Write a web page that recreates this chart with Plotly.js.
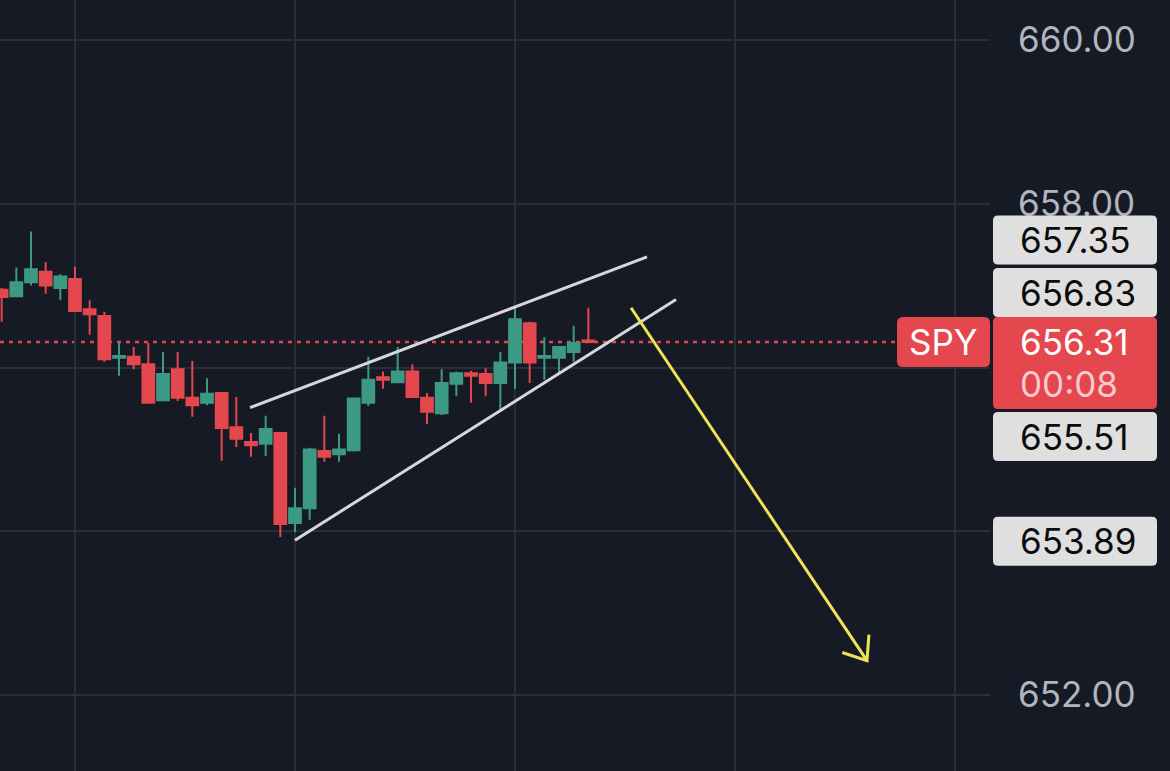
<!DOCTYPE html>
<html><head><meta charset="utf-8">
<script src="https://cdn.plot.ly/plotly-3.0.1.min.js"></script>
<style>html,body{margin:0;padding:0;background:#161a25;overflow:hidden}#chart{width:1170px;height:771px;}</style>
</head><body><div id="chart"></div>
<script>
// ---- data ----
const opens  = [656.95,656.87,657.04,657.17,656.97,657.08,656.71,656.63,656.12,656.13,656.04,655.60,655.98,655.63,655.57,655.69,655.27,655.09,655.07,655.20,654.10,654.28,654.98,654.94,654.99,655.57,655.88,655.82,655.95,655.63,655.44,655.80,655.93,655.92,655.81,656.06,656.54,656.12,656.12,656.19,656.33];
const highs  = [656.97,657.22,657.66,657.29,657.14,657.23,656.82,656.68,656.30,656.25,656.30,656.19,656.19,656.08,655.87,655.69,655.64,655.20,655.41,655.20,654.53,655.02,655.41,655.19,655.62,656.13,655.95,656.25,656.04,655.69,655.98,655.95,655.96,655.99,656.19,656.75,656.56,656.37,656.25,656.51,656.73];
const lows   = [656.56,656.87,657.00,656.90,656.82,656.69,656.40,656.07,655.90,655.98,655.57,655.60,655.59,655.40,655.54,654.86,655.03,654.91,654.92,653.93,653.99,654.14,654.85,654.85,654.97,655.53,655.74,655.81,655.64,655.31,655.42,655.65,655.57,655.65,655.46,655.74,655.81,655.85,655.92,656.07,656.31];
const closes = [656.86,657.04,657.20,657.00,657.11,656.69,656.65,656.10,656.14,656.04,655.57,655.92,655.63,655.54,655.68,655.26,655.13,655.05,655.25,654.09,654.28,655.00,654.91,655.00,655.62,655.85,655.85,655.95,655.64,655.46,655.81,655.93,655.90,655.81,656.06,656.59,656.06,656.14,656.25,656.30,656.31];

const upperLineX = [16.93, 44.0];
const upperLineY = [655.51, 657.35];
const lowerLineX = [20.0, 45.98];
const lowerLineY = [653.89, 656.83];
const arrowX = [42.91, 59.0];
const arrowY = [656.73, 652.42];

const yTickVals = [652, 654, 656, 658, 660];
const yTickText = ['652.00', '', '', '658.00', '660.00']; // 654.00 / 656.00 are hidden behind the price boxes
const priceLabels = [657.35, 656.83, 655.51, 653.89];
const lastPrice = 656.31;
const ticker = "SPY";
const countdown = "00:08";

// ---- style / geometry ----
const RED = '#e4474e', GREEN = '#3c9a84', BG = '#161a25', GRID = '#2a2e39';
const FONT = 'Inter, "Noto Sans", sans-serif';
const PLOT_W = 990, PLOT_H = 771;
const xRange = [-0.1136, 67.386];
const yRange = [651.0718, 660.4885];
const pxPerX = PLOT_W / (xRange[1] - xRange[0]);
const pxPerY = PLOT_H / (yRange[1] - yRange[0]);
const v2py = v => (yRange[1] - v) * pxPerY;
const py2v = py => yRange[1] - py / pxPerY;
const i2px = i => (i - xRange[0]) * pxPerX;
const px2i = px => xRange[0] + px / pxPerX;
const P = px => px / PLOT_W; // pixel -> paper x

const idx = opens.map((_, i) => i);

function roundRect(x0, x1, y0, y1, r, color) {
  const X = P, Y = py2v;
  const path = `M ${X(x0 + r)},${Y(y0)} L ${X(x1 - r)},${Y(y0)} Q ${X(x1)},${Y(y0)} ${X(x1)},${Y(y0 + r)} ` +
    `L ${X(x1)},${Y(y1 - r)} Q ${X(x1)},${Y(y1)} ${X(x1 - r)},${Y(y1)} L ${X(x0 + r)},${Y(y1)} ` +
    `Q ${X(x0)},${Y(y1)} ${X(x0)},${Y(y1 - r)} L ${X(x0)},${Y(y0 + r)} Q ${X(x0)},${Y(y0)} ${X(x0 + r)},${Y(y0)} Z`;
  return {type: 'path', xref: 'paper', yref: 'y', path, fillcolor: color, line: {width: 0}, layer: 'above'};
}

// arrow head (chevron) derived from the arrow line ends
const tipPx = [i2px(arrowX[1]), v2py(arrowY[1])];
const tailPx = [i2px(arrowX[0]), v2py(arrowY[0])];
const dx = tailPx[0] - tipPx[0], dy = tailPx[1] - tipPx[1];
const dl = Math.hypot(dx, dy);
const ux = dx / dl, uy = dy / dl;
const ang = 38 * Math.PI / 180, armLen = 26;
function rot(a) { return [ux * Math.cos(a) - uy * Math.sin(a), ux * Math.sin(a) + uy * Math.cos(a)]; }
const a1 = rot(ang), a2 = rot(-ang);
const headX = [px2i(tipPx[0] + a1[0] * armLen), arrowX[1], px2i(tipPx[0] + a2[0] * armLen)];
const headY = [py2v(tipPx[1] + a1[1] * armLen), arrowY[1], py2v(tipPx[1] + a2[1] * armLen)];

const traces = [
  {type: 'candlestick', x: idx, open: opens, high: highs, low: lows, close: closes,
   increasing: {line: {color: GREEN, width: 2}, fillcolor: GREEN},
   decreasing: {line: {color: RED, width: 2}, fillcolor: RED},
   whiskerwidth: 0, hoverinfo: 'skip', showlegend: false},
  {type: 'scatter', mode: 'lines', x: upperLineX, y: upperLineY, line: {color: '#d6d7dc', width: 3}, hoverinfo: 'skip'},
  {type: 'scatter', mode: 'lines', x: lowerLineX, y: lowerLineY, line: {color: '#d6d7dc', width: 3}, hoverinfo: 'skip'},
  {type: 'scatter', mode: 'lines', x: arrowX, y: arrowY, line: {color: '#efe35a', width: 3}, hoverinfo: 'skip'},
  {type: 'scatter', mode: 'lines', x: headX, y: headY, line: {color: '#efe35a', width: 3}, hoverinfo: 'skip'}
];

// label boxes (pixel offsets from the value position keep them from overlapping)
const labelShift = [-17, -7, 29, 1];
const BOX_X0 = 993, BOX_X1 = 1157, BOX_H = 49, TEXT_X = 1018;
const LABEL_SIZE = 35;
const shapes = [
  {type: 'line', xref: 'paper', yref: 'y', x0: 0, x1: P(897), y0: lastPrice, y1: lastPrice,
   line: {color: RED, width: 2.5, dash: '4px,5px'}, layer: 'between'}
];
const annotations = [];
priceLabels.forEach((v, k) => {
  const cy = v2py(v) + labelShift[k];
  shapes.push(roundRect(BOX_X0, BOX_X1, cy - BOX_H / 2, cy + BOX_H / 2, 5, '#dfdfe0'));
  annotations.push({xref: 'paper', yref: 'y', x: P(TEXT_X), y: py2v(cy), xanchor: 'left', yanchor: 'middle',
    text: v.toFixed(2), showarrow: false, font: {family: FONT, size: LABEL_SIZE, color: '#0b0b0d'}});
});
const lastPy = v2py(lastPrice);
shapes.push(roundRect(897, 990, lastPy - 25, lastPy + 25, 6, RED));
shapes.push(roundRect(BOX_X0, BOX_X1, lastPy - 25, lastPy + 67, 5, RED));
annotations.push({xref: 'paper', yref: 'y', x: P(943), y: lastPrice, xanchor: 'center', yanchor: 'middle',
  text: ticker, showarrow: false, font: {family: FONT, size: LABEL_SIZE, color: '#ffffff'}});
annotations.push({xref: 'paper', yref: 'y', x: P(TEXT_X), y: lastPrice, xanchor: 'left', yanchor: 'middle',
  text: lastPrice.toFixed(2), showarrow: false, font: {family: FONT, size: LABEL_SIZE, color: '#ffffff'}});
annotations.push({xref: 'paper', yref: 'y', x: P(TEXT_X), y: py2v(lastPy + 42), xanchor: 'left', yanchor: 'middle',
  text: countdown, showarrow: false, font: {family: FONT, size: LABEL_SIZE, color: 'rgba(255,255,255,0.72)'}});

const layout = {
  width: 1170, height: 771,
  paper_bgcolor: BG, plot_bgcolor: BG,
  margin: {l: 0, r: 180, t: 0, b: 0},
  showlegend: false,
  boxgap: 0.2, boxgroupgap: 0,
  xaxis: {range: xRange, tick0: 5, dtick: 15, showgrid: true, gridcolor: GRID, gridwidth: 2,
          showticklabels: false, zeroline: false, showline: false, ticks: '', rangeslider: {visible: false}, fixedrange: true},
  yaxis: {range: yRange, side: 'right', tickvals: yTickVals, ticktext: yTickText,
          showgrid: true, gridcolor: GRID, gridwidth: 2, zeroline: false, showline: false, ticks: '',
          tickfont: {family: FONT, size: LABEL_SIZE, color: '#b2b5be'}, ticklabelstandoff: 27, fixedrange: true},
  shapes, annotations
};
Plotly.newPlot('chart', traces, layout, {displayModeBar: false, staticPlot: true});
</script></body></html>
